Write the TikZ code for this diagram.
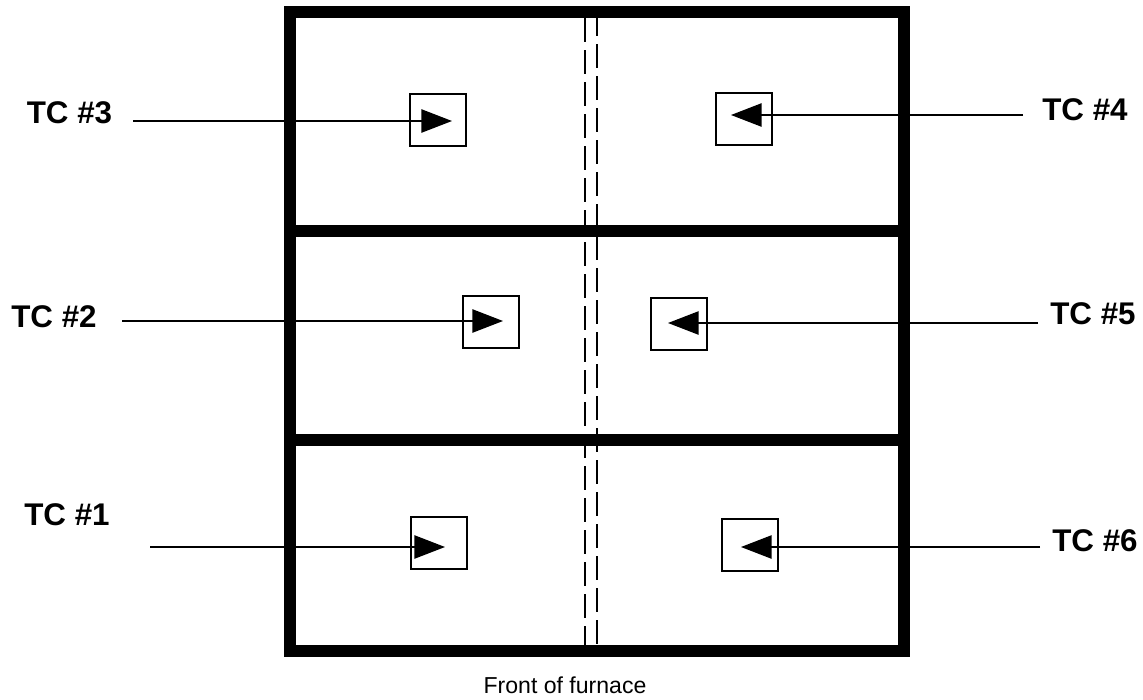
\documentclass[tikz,border=0pt]{standalone}
\usepackage{fontspec}
\setmainfont{Liberation Sans}
\usetikzlibrary{arrows.meta}
\begin{document}
\begin{tikzpicture}[x=0.75pt,y=-0.75pt,
  wall/.style={line width=9pt,line cap=rect},
  divider/.style={line width=8.5pt},
  sensor/.style={draw,line width=1.5pt,minimum width=42pt,minimum height=39pt,inner sep=0pt},
  lbl/.style={font=\bfseries\fontsize{23.5}{26}\selectfont,inner sep=0pt},
  wire/.style={line width=1.1pt,-{Triangle[length=23pt,width=17.5pt]}},
  seam/.style={line width=1.5pt,dash pattern=on 18pt off 6pt}]
\useasboundingbox (0,0) rectangle (1143,700);
% furnace walls
\draw[wall] (290,12) rectangle (904,651);
\draw[divider] (290,231) -- (904,231);
\draw[divider] (290,440) -- (904,440);
% centre seam
\draw[seam] (585,18) -- (585,645);
\draw[seam,dash phase=4.5pt] (597,18) -- (597,645);
% sensor boxes
\node[sensor] (b3) at (437.5,119.5) {};
\node[sensor] (b4) at (743.5,119) {};
\node[sensor] (b2) at (490.5,321.5) {};
\node[sensor] (b5) at (679,323.5) {};
\node[sensor] (b1) at (438.5,543) {};
\node[sensor] (b6) at (750,544.5) {};
% labels
\node[lbl] (l3) at (69.5,113) {TC \#3};
\node[lbl] (l4) at (1085,110) {TC \#4};
\node[lbl] (l2) at (54,317) {TC \#2};
\node[lbl] (l5) at (1093,314) {TC \#5};
\node[lbl] (l1) at (67,515) {TC \#1};
\node[lbl] (l6) at (1095,541) {TC \#6};
% wire ends
\coordinate (s3) at (133,121);  \coordinate (t3) at (452,121);
\coordinate (s4) at (1023,115); \coordinate (t4) at (731,115);
\coordinate (s2) at (122,321);  \coordinate (t2) at (503,321);
\coordinate (s5) at (1038,323); \coordinate (t5) at (668,323);
\coordinate (s1) at (150,547);  \coordinate (t1) at (445,547);
\coordinate (s6) at (1040,547); \coordinate (t6) at (741,547);
\draw[wire] (s3) -- (t3);
\draw[wire] (s4) -- (t4);
\draw[wire] (s2) -- (t2);
\draw[wire] (s5) -- (t5);
\draw[wire] (s1) -- (t1);
\draw[wire] (s6) -- (t6);
% caption
\node[font=\fontsize{17.3}{20}\selectfont,inner sep=0pt] (cap) at (565,685) {Front of furnace};
\end{tikzpicture}
\end{document}
